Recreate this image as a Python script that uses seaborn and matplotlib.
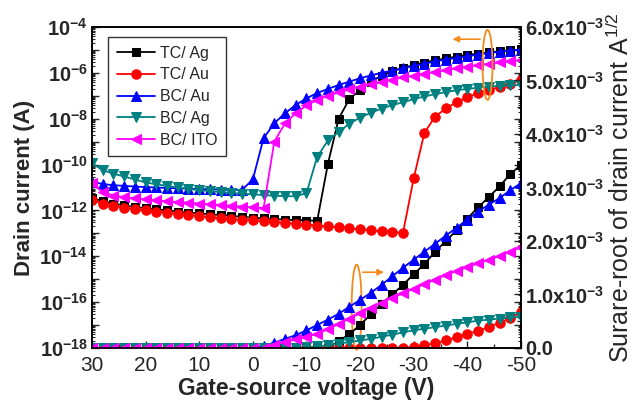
import numpy as np
import pandas as pd
import matplotlib
matplotlib.use("Agg")
import matplotlib.pyplot as plt
import seaborn as sns
from matplotlib.patches import Ellipse
from matplotlib.ticker import FixedLocator, FuncFormatter, MultipleLocator, LogLocator, NullFormatter

# ---------------- data ----------------
gate_voltage = [30, 28, 26, 24, 22, 20, 18, 16, 14, 12, 10, 8, 6, 4, 2, 0,
                -2, -4, -6, -8, -10, -12, -14, -16, -18, -20, -22, -24, -26, -28,
                -30, -32, -34, -36, -38, -40, -42, -44, -46, -48, -50]

series_names = ["TC/ Ag", "TC/ Au", "BC/ Au", "BC/ Ag", "BC/ ITO"]
series_colors = ["#000000", "#FF0000", "#0000FF", "#008080", "#FF00FF"]
series_markers = ["s", "o", "^", "v", "<"]

# log10 of drain current (A), left axis
log_tc_ag = [-11.45, -11.6, -11.7, -11.78, -11.85, -11.9, -11.95, -12.0, -12.05, -12.1, -12.13,
             -12.17, -12.2, -12.24, -12.28, -12.32, -12.35, -12.38, -12.4, -12.42, -12.44, -12.45,
             -9.97, -8.0, -7.14, -6.75, -6.38, -6.12, -5.93, -5.78, -5.66, -5.55, -5.45, -5.37,
             -5.29, -5.22, -5.16, -5.11, -5.06, -5.02, -4.98]
log_tc_au = [-11.55, -11.7, -11.8, -11.88, -11.95, -12.0, -12.05, -12.1, -12.15, -12.2, -12.25,
             -12.3, -12.34, -12.38, -12.4, -12.42, -12.46, -12.5, -12.54, -12.58, -12.62, -12.66,
             -12.7, -12.74, -12.78, -12.82, -12.86, -12.9, -12.94, -12.98, -10.6, -8.61, -7.91,
             -7.55, -7.28, -7.07, -6.88, -6.75, -6.62, -6.48, -6.31]
log_bc_au = [-10.75, -10.85, -10.9, -10.93, -10.96, -10.98, -11.0, -11.02, -11.04, -11.05, -11.07,
             -11.08, -11.09, -11.1, -11.1, -10.65, -8.85, -8.2, -7.76, -7.4, -7.11, -6.88, -6.7,
             -6.53, -6.38, -6.24, -6.11, -6.0, -5.9, -5.8, -5.7, -5.6, -5.5, -5.42, -5.35, -5.28,
             -5.2, -5.14, -5.08, -5.03, -4.99]
log_bc_ag = [-9.95, -10.24, -10.4, -10.52, -10.65, -10.78, -10.86, -10.93, -11.0, -11.06, -11.12,
             -11.16, -11.2, -11.24, -11.27, -11.3, -11.33, -11.36, -11.38, -11.38, -11.25, -9.66,
             -8.95, -8.58, -8.22, -7.95, -7.74, -7.56, -7.41, -7.28, -7.15, -7.03, -6.93, -6.84,
             -6.76, -6.7, -6.65, -6.6, -6.57, -6.55, -6.53]
log_bc_ito = [-10.8, -11.2, -11.35, -11.42, -11.48, -11.52, -11.56, -11.6, -11.63, -11.66, -11.7,
              -11.73, -11.76, -11.8, -11.83, -11.87, -11.9, -9.0, -8.2, -7.76, -7.42, -7.18, -7.0,
              -6.85, -6.72, -6.6, -6.5, -6.4, -6.3, -6.2, -6.12, -6.04, -5.96, -5.88, -5.8, -5.73,
              -5.66, -5.6, -5.54, -5.49, -5.44]

# square root of drain current (x1e-3 A^1/2), right axis
sqrt_tc_ag = [0] * 22 + [0.0, 0.13, 0.26, 0.43, 0.63, 0.82, 1.0, 1.18, 1.38, 1.57, 1.8, 2.0,
                         2.2, 2.42, 2.63, 2.82, 3.02, 3.25, 3.42]
sqrt_tc_au = [0] * 30 + [0.02, 0.05, 0.09, 0.14, 0.2, 0.26, 0.32, 0.39, 0.47, 0.56, 0.67]
sqrt_bc_au = [0] * 16 + [0.04, 0.1, 0.17, 0.24, 0.33, 0.43, 0.53, 0.64, 0.77, 0.9, 1.03, 1.18,
                         1.34, 1.5, 1.65, 1.8, 1.95, 2.1, 2.25, 2.4, 2.55, 2.68, 2.8, 2.95, 3.08]
sqrt_bc_ag = [0] * 20 + [0.01, 0.03, 0.05, 0.08, 0.11, 0.14, 0.17, 0.21, 0.25, 0.29, 0.33, 0.36,
                         0.39, 0.42, 0.45, 0.48, 0.51, 0.53, 0.55, 0.57, 0.58]
sqrt_bc_ito = [0] * 17 + [0.06, 0.11, 0.16, 0.21, 0.27, 0.35, 0.45, 0.55, 0.65, 0.75, 0.85, 0.94,
                          1.02, 1.11, 1.19, 1.28, 1.36, 1.44, 1.51, 1.58, 1.65, 1.72, 1.8, 1.88]

log_series = [log_tc_ag, log_tc_au, log_bc_au, log_bc_ag, log_bc_ito]
sqrt_series = [sqrt_tc_ag, sqrt_tc_au, sqrt_bc_au, sqrt_bc_ag, sqrt_bc_ito]

# ---------------- style ----------------
sns.set_style("ticks")
plt.rcParams["font.family"] = ["Liberation Sans", "DejaVu Sans"]
plt.rcParams["axes.unicode_minus"] = False
plt.rcParams["mathtext.fontset"] = "custom"
plt.rcParams["mathtext.rm"] = "Liberation Sans"
plt.rcParams["mathtext.bf"] = "Liberation Sans:bold"
plt.rcParams["mathtext.it"] = "Liberation Sans:italic"

fig = plt.figure(figsize=(6.33, 4.01), dpi=100)
ax = fig.add_axes([0.1453, 0.1322, 0.6777, 0.8005])
ax2 = ax.twinx()

msize = {"s": 6.0, "o": 6.8, "^": 7.2, "v": 7.2, "<": 7.2}

for name, col, mk, lv in zip(series_names, series_colors, series_markers, log_series):
    df = pd.DataFrame({"V": gate_voltage, "I": 10.0 ** np.array(lv)})
    sns.lineplot(data=df, x="V", y="I", ax=ax, color=col, marker=mk,
                 markersize=msize[mk], markeredgecolor=col,
                 linewidth=1.3, label=name, errorbar=None, sort=False)

for name, col, mk, sv in zip(series_names, series_colors, series_markers, sqrt_series):
    df = pd.DataFrame({"V": gate_voltage, "S": np.array(sv) * 1e-3})
    sns.lineplot(data=df, x="V", y="S", ax=ax2, color=col, marker=mk,
                 markersize=msize[mk], markeredgecolor=col,
                 linewidth=1.3, errorbar=None, sort=False, legend=False)

# ---------------- axes ----------------
ax.set_yscale("log")
ax.set_xlim(30, -50)
ax.set_ylim(1e-18, 1e-4)
ax2.set_ylim(0, 6e-3)

ax.xaxis.set_major_locator(FixedLocator([30, 20, 10, 0, -10, -20, -30, -40, -50]))
ax.xaxis.set_minor_locator(MultipleLocator(5))
ax.set_xticklabels(["30", "20", "10", "0", "-10", "-20", "-30", "-40", "-50"])

decades = [10.0 ** e for e in range(-18, -3)]
ax.yaxis.set_major_locator(FixedLocator(decades))
ax.yaxis.set_minor_locator(LogLocator(base=10, subs=np.arange(2, 10), numticks=40))
ax.yaxis.set_minor_formatter(NullFormatter())


def left_fmt(v, pos):
    e = int(round(np.log10(v)))
    if e % 2 == 0:
        return r"$\mathbf{10^{%d}}$" % e
    return ""


ax.yaxis.set_major_formatter(FuncFormatter(left_fmt))

right_vals = [0, 1e-3, 2e-3, 3e-3, 4e-3, 5e-3, 6e-3]
right_labels = ["0.0", r"$\mathbf{1.0x10^{-3}}$", r"$\mathbf{2.0x10^{-3}}$", r"$\mathbf{3.0x10^{-3}}$",
                r"$\mathbf{4.0x10^{-3}}$", r"$\mathbf{5.0x10^{-3}}$", r"$\mathbf{6.0x10^{-3}}$"]
ax2.yaxis.set_major_locator(FixedLocator(right_vals))
ax2.set_yticklabels(right_labels)
ax2.yaxis.set_minor_locator(MultipleLocator(0.5e-3))

ax.tick_params(axis="x", which="major", direction="in", length=5, width=1, labelsize=15, pad=6)
ax.tick_params(axis="x", which="minor", direction="in", length=3, width=1)
ax.tick_params(axis="y", which="major", direction="in", length=5, width=1, labelsize=14.5,
               right=True, pad=3)
ax.tick_params(axis="y", which="minor", direction="in", length=2.5, width=0.8, right=True)
ax2.tick_params(axis="y", which="major", direction="in", length=5, width=1, labelsize=14.5, pad=3)
ax2.tick_params(axis="y", which="minor", direction="in", length=3, width=1)
for lbl in ax.get_yticklabels() + ax2.get_yticklabels():
    lbl.set_fontweight("bold")

for a in (ax, ax2):
    for s in a.spines.values():
        s.set_linewidth(1.2)
        s.set_color("black")
        s.set_visible(True)

ax.set_xlabel("Gate-source voltage (V)", fontsize=16.5, fontweight="bold", labelpad=1)
ax.set_ylabel("Drain current (A)", fontsize=16, fontweight="bold", labelpad=3)
ax2.set_ylabel(r"Surare-root of drain current A$^{1/2}$", fontsize=18, labelpad=2)

# legend
handles, labels = ax.get_legend_handles_labels()
leg = ax.legend(handles, labels, loc="upper left", bbox_to_anchor=(0.037, 0.969),
                borderaxespad=0, fontsize=11.5, frameon=True, fancybox=False,
                edgecolor="black", handlelength=2.4, handletextpad=0.3,
                labelspacing=0.42, borderpad=0.55)
leg.get_frame().set_linewidth(1.0)

# orange annotations
orange = "#F28A1E"
ax.add_patch(Ellipse((0.922, 0.882), 0.0233, 0.218, transform=ax.transAxes,
                     fill=False, edgecolor=orange, linewidth=1.3, clip_on=False, zorder=10))
ax.add_patch(Ellipse((0.617, 0.127), 0.0233, 0.265, transform=ax.transAxes,
                     fill=False, edgecolor=orange, linewidth=1.3, clip_on=False, zorder=10))
ax2.annotate("", xy=(0.834, 0.962), xytext=(0.911, 0.962), xycoords="axes fraction",
             arrowprops=dict(arrowstyle="-|>", color=orange, lw=1.2, mutation_scale=9))
ax2.annotate("", xy=(0.687, 0.236), xytext=(0.625, 0.236), xycoords="axes fraction",
             arrowprops=dict(arrowstyle="-|>", color=orange, lw=1.2, mutation_scale=9))

fig.savefig("out.png", dpi=100)
